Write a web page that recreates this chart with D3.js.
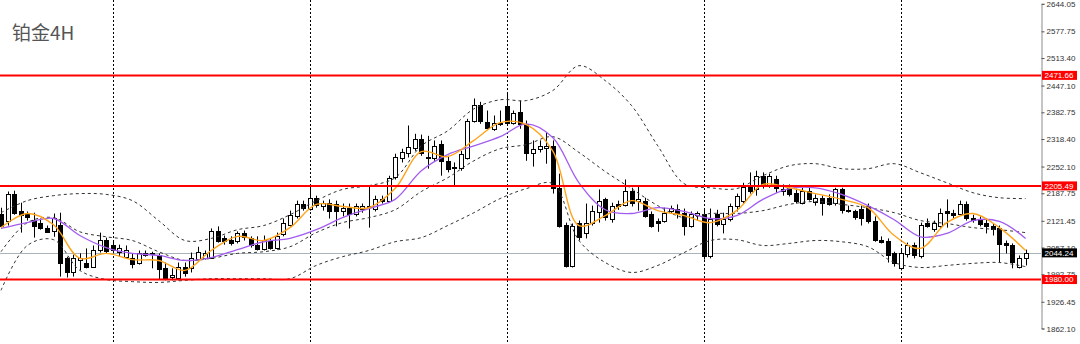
<!DOCTYPE html>
<html><head><meta charset="utf-8">
<script src="https://cdn.jsdelivr.net/npm/d3@7/dist/d3.min.js"></script>
<style>
html,body{margin:0;padding:0;background:#fff;}
svg{display:block;}
</style></head>
<body>
<svg id="chart" width="1080" height="344"></svg>
<script>
// ---------- DATA ----------
const title = "铂金4H";
const open  = [2139,2120,2187,2144,2139,2124,2117,2105,2098,2112,2031,1997,2028,2021,2011,2052,2076,2062,2045,2035,2033,2021,2045,2043,2038,2009,1985,1985,2011,2007,2031,2033,2033,2098,2079,2076,2072,2091,2079,2064,2055,2074,2057,2091,2112,2132,2161,2151,2177,2158,2165,2163,2146,2153,2139,2151,2156,2151,2175,2170,2225,2271,2283,2298,2319,2276,2274,2307,2266,2250,2250,2274,2363,2401,2360,2343,2358,2399,2358,2384,2355,2286,2295,2298,2302,2201,2112,2014,2115,2091,2117,2144,2173,2127,2161,2161,2194,2168,2170,2139,2120,2122,2146,2151,2141,2110,2136,2139,2038,2139,2115,2127,2158,2170,2206,2199,2230,2206,2223,2194,2201,2189,2165,2194,2168,2177,2177,2163,2197,2148,2144,2151,2156,2122,2076,2074,2043,2009,2040,2062,2038,2117,2100,2110,2144,2141,2139,2163,2129,2124,2115,2108,2105,2067,2062,2009,2033];
const high  = [2153,2192,2194,2165,2144,2141,2127,2110,2139,2141,2035,2040,2043,2055,2062,2093,2081,2074,2064,2062,2043,2050,2050,2047,2043,2021,2007,2021,2021,2045,2059,2050,2103,2108,2086,2084,2096,2098,2084,2084,2086,2079,2093,2127,2146,2170,2170,2204,2182,2170,2173,2170,2163,2163,2163,2163,2206,2182,2182,2230,2283,2295,2351,2331,2329,2326,2315,2315,2278,2262,2290,2367,2416,2408,2387,2375,2387,2430,2387,2411,2363,2315,2315,2334,2315,2235,2117,2115,2122,2163,2158,2197,2177,2165,2170,2221,2201,2204,2177,2144,2127,2153,2158,2161,2151,2144,2144,2151,2151,2148,2141,2163,2187,2213,2238,2242,2238,2235,2230,2209,2209,2199,2201,2206,2185,2182,2185,2201,2201,2158,2148,2158,2163,2132,2084,2079,2047,2052,2069,2069,2117,2127,2122,2151,2173,2148,2170,2168,2136,2132,2127,2115,2110,2074,2067,2038,2052];
const low   = [2103,2110,2136,2093,2122,2081,2100,2093,2083,1987,1985,1987,2002,2007,2009,2045,2043,2043,2035,2031,2007,2016,2035,2007,1980,1978,1978,1978,1987,1997,2026,2028,2031,2069,2064,2062,2067,2074,2057,2050,2050,2052,2052,2084,2108,2127,2146,2146,2153,2146,2127,2108,2132,2103,2132,2141,2105,2144,2163,2165,2221,2262,2274,2290,2278,2247,2266,2230,2238,2206,2242,2269,2358,2355,2343,2338,2350,2353,2353,2343,2266,2252,2286,2259,2187,2105,2009,2009,2074,2079,2110,2117,2122,2117,2148,2156,2156,2146,2129,2105,2095,2117,2139,2127,2086,2105,2122,2028,2031,2108,2091,2120,2144,2163,2187,2182,2199,2201,2189,2182,2180,2163,2161,2170,2158,2134,2158,2158,2139,2141,2124,2110,2115,2071,2067,2021,2011,2002,2033,2031,2031,2105,2095,2105,2105,2127,2134,2122,2117,2108,2091,2086,2021,2043,2007,2007,2014];
const close = [2110,2185,2141,2134,2132,2110,2105,2096,2129,2021,1997,2031,2033,2011,2052,2076,2050,2050,2055,2052,2019,2045,2040,2040,2004,1985,1990,2011,1997,2031,2047,2045,2098,2074,2072,2069,2091,2081,2062,2055,2076,2057,2086,2117,2136,2161,2151,2177,2161,2165,2146,2146,2153,2139,2158,2158,2153,2175,2170,2225,2274,2286,2298,2319,2286,2274,2302,2266,2247,2252,2283,2363,2401,2363,2346,2358,2355,2358,2382,2355,2286,2295,2302,2302,2201,2110,2014,2110,2081,2115,2146,2170,2129,2158,2156,2194,2165,2173,2134,2110,2115,2141,2153,2141,2110,2139,2141,2038,2127,2115,2127,2158,2182,2204,2194,2230,2206,2230,2201,2199,2187,2170,2194,2175,2177,2165,2163,2197,2146,2146,2129,2129,2120,2076,2071,2040,2019,2045,2062,2038,2112,2110,2115,2141,2139,2136,2163,2129,2124,2115,2108,2100,2067,2062,2021,2031,2044.24];

// indicator samples (every 4th bar)
const sampleIdx = [0,4,8,12,16,20,24,28,32,36,40,44,48,52,56,60,64,68,72,76,80,84,88,92,96,100,104,108,112,116,120,124,128,132,136,140,144,148,152,156];
const maFast  = [2105,2139,2112,2031,2043,2028,2026,2002,2050,2084,2074,2105,2161,2156,2153,2199,2288,2276,2315,2358,2353,2290,2110,2134,2170,2146,2134,2117,2146,2209,2201,2187,2173,2153,2086,2055,2117,2139,2105,2050];
const maSlow  = [2103,2117,2127,2086,2057,2043,2038,2026,2033,2052,2071,2079,2100,2129,2151,2173,2242,2281,2302,2324,2355,2322,2213,2148,2139,2153,2144,2127,2134,2173,2199,2201,2185,2158,2124,2083,2091,2122,2120,2079];
const bbUpper = [2141,2170,2182,2187,2185,2170,2122,2074,2079,2100,2110,2136,2170,2197,2206,2225,2302,2338,2391,2413,2411,2435,2495,2459,2399,2302,2211,2201,2199,2230,2254,2259,2247,2247,2259,2237,2213,2189,2177,2175];
const bbMid   = [2047,2117,2129,2095,2083,2074,2047,2026,2031,2043,2047,2059,2093,2117,2129,2148,2192,2225,2266,2295,2305,2324,2286,2240,2199,2158,2129,2139,2139,2146,2161,2168,2161,2153,2141,2122,2115,2105,2100,2093];
const bbLower = [1954,2062,2076,2002,1980,1975,1973,1978,1982,1982,1982,1982,2014,2035,2050,2071,2081,2110,2141,2175,2199,2211,2074,2021,1997,2014,2045,2074,2076,2062,2067,2074,2071,2059,2021,2009,2014,2019,2021,2011];

const yTicks = [2644.05,2577.75,2513.40,2447.10,2382.75,2318.40,2252.10,2187.75,2121.45,2057.10,1992.75,1926.45,1862.10];
const levels = [2471.66,2205.49,1980.00];
const lastPrice = 2044.24;
const gridBars = [17,47,77,107,137];

// ---------- CHART ----------
const svg = d3.select("#chart");
const W = 1080, H = 344, axisX = 1041;
const x = d3.scaleLinear().domain([0, 156]).range([1, 1025.6]);
const y = d3.scaleLinear().domain([1862.10, 2644.05]).range([328.5, 3.8]);
const px = v => Math.round(x(v)) + 0.5;

svg.append("defs").append("clipPath").attr("id","plot")
  .append("rect").attr("x",0).attr("y",0).attr("width",axisX).attr("height",H);

const plot = svg.append("g").attr("clip-path","url(#plot)");

// vertical grid
plot.selectAll("line.grid").data(gridBars).join("line")
  .attr("x1", d => px(d)).attr("x2", d => px(d))
  .attr("y1", 0).attr("y2", H)
  .attr("stroke", "#000").attr("stroke-width", 1).attr("stroke-dasharray", "2,2");

// current price line
plot.append("line").attr("x1",0).attr("x2",axisX)
  .attr("y1", Math.round(y(lastPrice))+0.5).attr("y2", Math.round(y(lastPrice))+0.5)
  .attr("stroke","#aab2ba").attr("stroke-width",1);

// candles
const bars = d3.range(open.length).map(i => ({i, o:open[i], h:high[i], l:low[i], c:close[i]}));
const cg = plot.append("g");
cg.selectAll("line.wick").data(bars).join("line")
  .attr("x1", d => px(d.i)).attr("x2", d => px(d.i))
  .attr("y1", d => y(d.h)).attr("y2", d => y(d.l))
  .attr("stroke","#000").attr("stroke-width",1);
cg.selectAll("rect.body").data(bars).join("rect")
  .attr("x", d => px(d.i) - 2)
  .attr("y", d => Math.round(y(Math.max(d.o,d.c))) + 0.5)
  .attr("width", 4)
  .attr("height", d => Math.max(1, Math.round(Math.abs(y(d.o)-y(d.c)))))
  .attr("fill", d => d.c >= d.o ? "#fff" : "#000")
  .attr("stroke","#000").attr("stroke-width",1);

// indicators
function drawLine(vals, color, width, dash){
  const line = d3.line().x((d,k)=>x(sampleIdx[k])).y(d=>y(d)).curve(d3.curveCatmullRom.alpha(0.5));
  plot.append("path").datum(vals).attr("d", line)
    .attr("fill","none").attr("stroke",color).attr("stroke-width",width)
    .attr("stroke-dasharray", dash || null);
}
drawLine(bbUpper, "#333", 1, "3,3");
drawLine(bbMid,   "#333", 1, "3,3");
drawLine(bbLower, "#333", 1, "3,3");
drawLine(maSlow, "#a35cf0", 1.3);
drawLine(maFast, "#ffa41c", 1.4);

// horizontal levels
plot.selectAll("line.level").data(levels).join("line")
  .attr("x1",0).attr("x2",axisX)
  .attr("y1", d => y(d)).attr("y2", d => y(d))
  .attr("stroke","#ff0000").attr("stroke-width",2);

// right axis
const axis = d3.axisRight(y).tickValues(yTicks).tickSize(3).tickPadding(2).tickFormat(d3.format(".2f"));
const ag = svg.append("g").attr("transform", `translate(${axisX+0.5},0)`).call(axis);
ag.select(".domain").attr("stroke","#8a8a8a");
ag.selectAll(".tick line").attr("stroke","#555");
ag.selectAll(".tick text").attr("fill","#333")
  .style("font-family","'Liberation Sans', Arial, sans-serif").style("font-size","8px");

// level labels (drawn over the axis labels, as in the reference)
const lab = svg.append("g");
const allLabels = levels.map(v => ({v, bg:"#ff0000"})).concat([{v:lastPrice, bg:"#000"}]);
lab.selectAll("rect").data(allLabels).join("rect")
  .attr("x", axisX+1).attr("y", d => y(d.v) - 4.5).attr("width", 35).attr("height", 9)
  .attr("fill", d => d.bg);
lab.selectAll("text").data(allLabels).join("text")
  .attr("x", axisX+3.5).attr("y", d => y(d.v)).attr("dy","0.35em")
  .attr("fill","#fff")
  .style("font-family","'Liberation Sans', Arial, sans-serif").style("font-size","8px")
  .text(d => d3.format(".2f")(d.v));

// title
svg.append("text").attr("x", 12).attr("y", 40).text(title)
  .attr("fill","#555")
  .style("font-family","'Noto Sans CJK SC', sans-serif").style("font-size","19px");
</script>
</body></html>
